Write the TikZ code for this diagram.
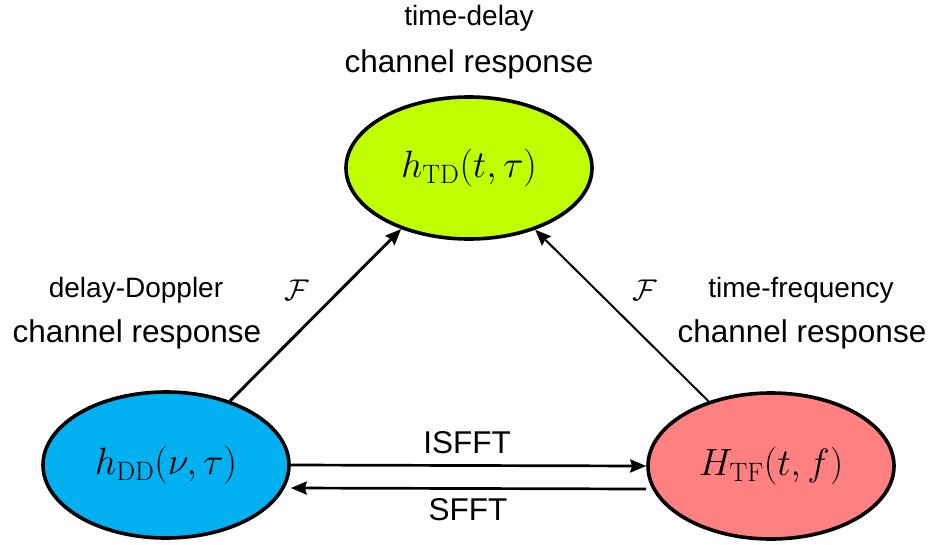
\RequirePackage{fix-cm}
\documentclass[tikz,border=0pt]{standalone}
\usepackage[no-math]{fontspec}
\setmainfont{Liberation Sans}
\usetikzlibrary{shapes.geometric,arrows.meta}

\definecolor{tdgreen}{RGB}{191,255,0}
\definecolor{ddblue}{RGB}{0,176,240}
\definecolor{tfred}{RGB}{255,128,128}

\tikzset{
  resp/.style={ellipse, draw=black, line width=3.6pt, minimum width=246pt,
    minimum height=142pt, inner sep=0pt, font=\fontsize{38}{44}\selectfont},
  small/.style={font=\fontsize{28}{32}\selectfont, anchor=base, inner sep=0pt},
  large/.style={font=\fontsize{31.5}{36}\selectfont, anchor=base, inner sep=0pt},
  flabel/.style={font=\fontsize{30}{34}\selectfont, inner sep=0pt},
  conn/.style={-{Stealth[length=16pt,width=13pt,inset=2pt]}},
}

\begin{document}
\begin{tikzpicture}[x=1pt,y=-1pt]
  \useasboundingbox (0,0) rectangle (931,544);

  % the three channel representations
  \node[resp, fill=tdgreen] (TD) at (469,168) {$h_{\mathrm{TD}}(t,\tau)$};
  \node[resp, fill=ddblue, minimum height=146pt] (DD) at (166,465) {$h_{\mathrm{DD}}(\nu,\tau)$};
  \node[resp, fill=tfred, minimum height=146pt] (TF) at (771,466) {$H_{\mathrm{TF}}(t,f)$};

  % captions
  \node[small] (tdA) at (469,25) {time-delay};
  \node[large] (tdB) at (469,72) {channel response};
  \node[small] (ddA) at (136,297) {delay-Doppler};
  \node[large] (ddB) at (137,342) {channel response};
  \node[small] (tfA) at (801,297) {time-frequency};
  \node[large] (tfB) at (802,342) {channel response};

  % Fourier transforms towards the time-delay response
  \draw[conn, line width=2.9pt] (DD.45) -- (TD.222);
  \draw[conn, line width=2pt] (TF.134) -- (TD.317);
  \node[flabel] (fl) at (297,290) {$\mathcal{F}$};
  \node[flabel] (fr) at (645,290) {$\mathcal{F}$};

  % symplectic finite Fourier transforms
  \draw[conn, line width=2.7pt] (DD.east) -- (TF.west);
  \draw[conn, line width=2.7pt] ([yshift=-23pt]TF.west) -- ([yshift=-23pt]DD.east);
  \node[large, anchor=center] (isfft) at (467,443) {ISFFT};
  \node[large, anchor=center] (sfft) at (468,510) {SFFT};
\end{tikzpicture}
\end{document}
